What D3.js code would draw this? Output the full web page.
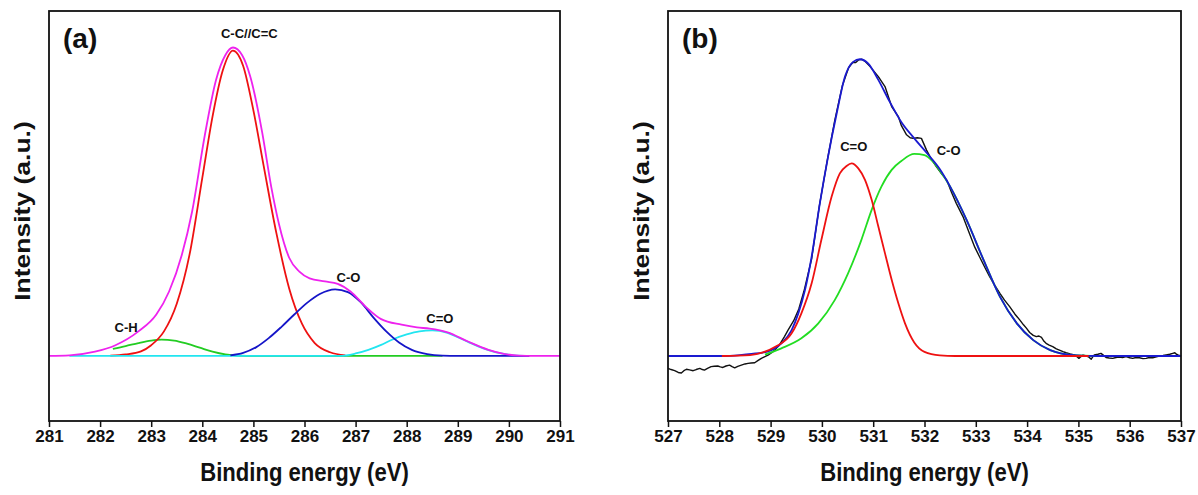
<!DOCTYPE html>
<html lang="en">
<head>
<meta charset="UTF-8">
<title>XPS C 1s / O 1s fitting</title>
<script src="https://d3js.org/d3.v7.min.js"></script>
<style>
  body { margin: 0; background: #fff; }
  svg text { font-family: Arial, "Liberation Sans", sans-serif; font-weight: bold; fill: #111; }
</style>
</head>
<body>
<svg id="chart" width="1198" height="495"></svg>
<script>
// ---- panel (a): C 1s, [binding energy eV, intensity a.u.]
const ticksA = [281, 282, 283, 284, 285, 286, 287, 288, 289, 290, 291];

const envelopeA = [[281.0,0],[281.4,0.2],[281.9,1.4],[282.3,3.5],[282.75,8],[283.1,13.5],[283.35,21],[283.6,33],
  [283.8,47],[284.05,72],[284.27,90],[284.45,98],[284.6,100.5],[284.78,98],[284.94,91],[285.17,73],[285.35,55],
  [285.5,43],[285.7,32],[285.9,27.5],[286.1,25.3],[286.4,24.3],[286.65,23.5],[286.9,21],[287.2,16],[287.5,12],
  [287.9,10.2],[288.2,9.3],[288.45,8.9],[288.8,7.7],[289.2,4.7],[289.6,2],[289.9,0.7],[290.2,0.1],[290.5,0],[291.0,0]];

const ccA = [[282.2,0.1],[282.5,0.5],[282.8,1.5],[283.0,3.5],[283.25,8],[283.5,17],[283.75,33],[284.0,58],[284.2,78],
  [284.4,93],[284.6,99.5],[284.8,94.5],[285.0,80],[285.2,62],[285.45,40],[285.7,22],[285.95,10.5],[286.2,4.2],
  [286.5,1.2],[286.8,0.2]];

const chA = [[282.25,2.3],[282.5,3.2],[282.75,4.2],[283.0,5.0],[283.2,5.3],[283.45,5.0],[283.7,4.0],[283.95,2.7],
  [284.2,1.4],[284.45,0.5],[284.7,0.1],[285.2,0],[288.7,0]];

const coA = [[284.55,0.2],[284.8,1.0],[285.05,2.8],[285.3,5.8],[285.55,9.5],[285.8,13.5],[286.05,17.3],[286.3,20.2],
  [286.6,21.7],[286.85,20.8],[287.1,17.5],[287.35,12.5],[287.6,8],[287.85,4.4],[288.1,2],[288.4,0.6],[288.7,0.1],
  [289.0,0],[290.4,0]];

const c_oA = [[281.4,0],[286.7,0],[287.0,0.8],[287.25,2],[287.5,3.6],[287.7,5.2],[288.0,7.0],[288.25,8.0],[288.5,8.3],
  [288.8,7.5],[289.0,6.1],[289.2,4.6],[289.4,3.1],[289.6,1.9],[289.85,0.8],[290.1,0.2],[290.4,0]];

const labelsA = [
  { text: "C-C//C=C", e: 284.92, i: 103.6 },
  { text: "C-H", e: 282.51, i: 7.8 },
  { text: "C-O", e: 286.86, i: 24.1 },
  { text: "C=O", e: 288.65, i: 10.7 }
];

// ---- panel (b): O 1s
const ticksB = [527, 528, 529, 530, 531, 532, 533, 534, 535, 536, 537];

const measuredB = [[527.0,-4.2],[527.06,-4.6],[527.13,-5],[527.2,-5.6],[527.26,-5.8],[527.31,-5],[527.36,-4.5],
  [527.42,-4.7],[527.49,-5],[527.55,-4.6],[527.62,-4.2],[527.67,-4.6],[527.71,-4.8],[527.77,-4.2],[527.84,-3.6],
  [527.9,-3.5],[527.97,-3.4],[528.02,-3.7],[528.07,-3.9],[528.13,-3.4],[528.2,-3.1],[528.25,-3.6],[528.3,-4],
  [528.36,-3.5],[528.43,-3.1],[528.5,-2.7],[528.56,-2.5],[528.62,-2.4],[528.69,-2.3],[528.75,-1.6],[528.82,-0.8],
  [528.88,-0.3],[528.95,0.3],[529.02,1.1],[529.08,2],[529.17,3.7],[529.27,6.6],[529.34,8.8],[529.45,12],[529.55,16],
  [529.65,22],[529.8,33],[529.95,51],[530.1,66],[530.25,80],[530.4,92],[530.52,98],[530.6,99.8],[530.66,99.8],
  [530.72,100.7],[530.78,100.9],[530.84,100.2],[530.94,98.4],[531.1,95],[531.23,91.6],[531.3,88],[531.36,84.8],
  [531.49,81.4],[531.55,78.3],[531.65,75.2],[531.72,74.2],[531.78,74],[531.86,74.2],[531.94,74],[532.04,70],
  [532.13,67],[532.23,64.4],[532.33,62],[532.43,59.9],[532.53,55.5],[532.62,51.9],[532.75,47.4],[532.88,41.5],
  [532.98,37],[533.08,33.5],[533.18,30],[533.27,27],[533.37,24],[533.47,21.3],[533.56,19],[533.66,16.8],
  [533.76,14.3],[533.86,12.2],[533.93,10.6],[533.99,9.4],[534.05,8],[534.12,7],[534.18,6.6],[534.23,6.8],
  [534.28,6.3],[534.33,5],[534.37,4.3],[534.43,3.7],[534.5,3.2],[534.57,2.4],[534.63,2],[534.7,1.5],[534.76,1.1],
  [534.84,0.7],[534.92,0.4],[534.97,-0.2],[535.01,-0.8],[535.05,-0.2],[535.09,0.3],[535.15,0],[535.2,-0.3],
  [535.25,-1.1],[535.28,-0.3],[535.31,0.4],[535.38,0.6],[535.44,0.9],[535.49,0.2],[535.54,-0.5],[535.6,-0.7],
  [535.67,-0.8],[535.73,-0.5],[535.8,-0.4],[535.86,-0.5],[535.93,-0.2],[536.0,-0.6],[536.06,-0.8],[536.12,-0.5],
  [536.19,-0.6],[536.26,-0.9],[536.32,-0.8],[536.38,-0.5],[536.45,-0.6],[536.52,-0.3],[536.58,0],[536.65,0.2],
  [536.71,0.4],[536.78,0.6],[536.84,0.9],[536.88,1.1],[536.91,0.6],[536.95,0.3],[537.0,0]];

const envelopeB = [[527.0,0],[528.05,0],[528.4,0.3],[528.63,0.7],[528.95,1.6],[529.21,4.3],[529.41,8.8],[529.54,14.5],
  [529.67,22.4],[529.8,33.8],[529.96,51.9],[530.12,67.8],[530.29,82.6],[530.45,95],[530.61,100],[530.74,100.9],
  [530.9,99.5],[531.1,93.9],[531.32,86.5],[531.55,79.5],[531.8,74],[532.07,68.5],[532.3,63.5],[532.5,57.6],
  [532.82,46.3],[533.15,32.7],[533.47,20.2],[533.8,11.1],[534.12,5.4],[534.45,2],[534.9,0.3],[535.4,0],[537.0,0]];

const c_oB = [[528.05,0],[528.6,0.3],[528.85,1.2],[529.1,3.2],[529.41,7.7],[529.6,14.5],[529.8,24.7],[529.99,39.5],
  [530.19,54.2],[530.35,62.1],[530.48,64.6],[530.58,65.5],[530.71,63.8],[530.84,59.9],[530.97,53.1],[531.1,44],
  [531.23,34.9],[531.36,25.9],[531.49,17.9],[531.62,11.1],[531.8,4.6],[532.0,1.4],[532.3,0.2],[532.6,0],[535.2,0]];

const coB = [[528.89,0.5],[529.21,2.6],[529.6,6],[529.93,11.1],[530.25,19],[530.51,28.1],[530.77,39.5],[530.97,49.7],
  [531.16,57.6],[531.36,63.3],[531.55,66.3],[531.8,68.7],[532.0,68.3],[532.17,66],[532.3,63],[532.5,57.6],
  [532.82,46.3],[533.15,32.7],[533.47,20.2],[533.8,11.1],[534.12,5.4],[534.45,2],[534.9,0.3],[535.4,0]];

const labelsB = [
  { text: "C=O", e: 530.62, i: 69.7 },
  { text: "C-O", e: 532.47, i: 68.4 }
];

const svg = d3.select("#chart");

function drawPanel(p) {
  let x = d3.scaleLinear().domain(p.xDomain).range([p.left, p.right]);
  let y = d3.scaleLinear().domain(p.yDomain).range([p.bottom, p.top]);

  let g = svg.append("g");

  // curves, back to front
  p.series.forEach(function(s) {
    let line = d3.line()
      .x(function(d) { return x(d[0]); })
      .y(function(d) { return y(d[1]); })
      .curve(s.smooth ? d3.curveMonotoneX : d3.curveLinear);
    g.append("path")
      .datum(s.data)
      .attr("d", line)
      .attr("fill", "none")
      .attr("stroke", s.color)
      .attr("stroke-width", s.width || 1.8)
      .attr("stroke-linejoin", "round");
  });

  // frame
  g.append("rect")
    .attr("x", p.left).attr("y", p.top)
    .attr("width", p.right - p.left).attr("height", p.bottom - p.top)
    .attr("fill", "none").attr("stroke", "#111").attr("stroke-width", 1.8);

  let axis = g.append("g")
    .attr("transform", "translate(0," + p.bottom + ")")
    .call(d3.axisBottom(x).tickValues(p.ticks).tickFormat(d3.format("d")).tickSize(6).tickPadding(3));
  axis.select(".domain").remove();
  axis.selectAll(".tick line").attr("stroke", "#111").attr("stroke-width", 1.5);
  axis.selectAll(".tick text").attr("font-size", 17).attr("fill", "#111")
    .style("font-family", "Arial, 'Liberation Sans', sans-serif").style("font-weight", "bold");

  // peak labels
  g.selectAll("text.peak")
    .data(p.labels)
    .enter().append("text")
    .attr("class", "peak")
    .attr("x", function(d) { return x(d.e); })
    .attr("y", function(d) { return y(d.i); })
    .attr("text-anchor", "middle")
    .attr("font-size", 13)
    .text(function(d) { return d.text; });

  g.append("text")
    .attr("x", p.left + 14).attr("y", 48)
    .attr("font-size", 28)
    .text(p.letter);

  // the source figure is squeezed horizontally, so the titles are too
  g.append("text")
    .attr("transform", "translate(" + ((p.left + p.right) / 2) + ",481) scale(0.85,1)")
    .attr("text-anchor", "middle")
    .attr("font-size", 26)
    .text("Binding energy (eV)");

  g.append("text")
    .attr("transform", "translate(" + (p.left - 19) + ",211) rotate(-90) scale(1,0.85)")
    .attr("text-anchor", "middle")
    .attr("font-size", 26.5)
    .text("Intensity (a.u.)");
}

drawPanel({
  left: 49, right: 560, top: 11, bottom: 421,
  xDomain: [281, 291], yDomain: [-21.2, 112.4],
  ticks: ticksA, letter: "(a)", labels: labelsA,
  series: [
    { data: chA, color: "#22cc22", smooth: true },
    { data: ccA, color: "#ee1111", smooth: true },
    { data: c_oA, color: "#22e5f0", smooth: true },
    { data: coA, color: "#1515c8", smooth: true },
    { data: envelopeA, color: "#ee22ee", smooth: true }
  ]
});

drawPanel({
  left: 668, right: 1181, top: 11, bottom: 421,
  xDomain: [527, 537], yDomain: [-22.1, 117.3],
  ticks: ticksB, letter: "(b)", labels: labelsB,
  series: [
    { data: measuredB, color: "#111111", smooth: false, width: 1.4 },
    { data: coB, color: "#22dd22", smooth: true },
    { data: envelopeB, color: "#1a1ad0", smooth: true },
    { data: c_oB, color: "#ee1111", smooth: true }
  ]
});
</script>
</body>
</html>
